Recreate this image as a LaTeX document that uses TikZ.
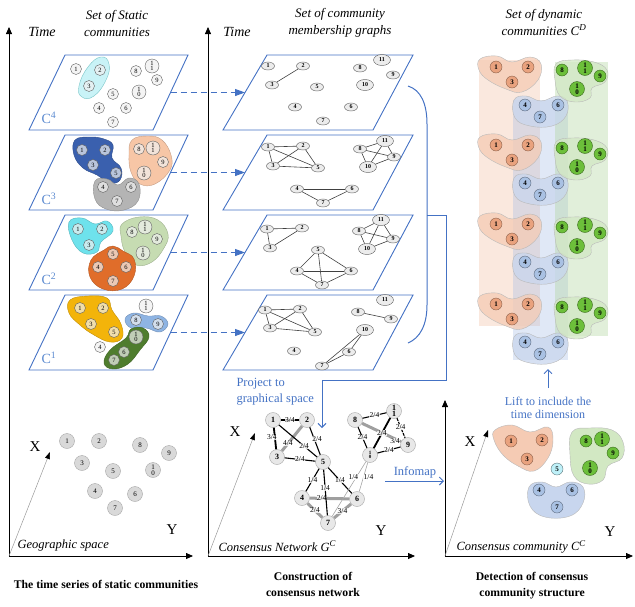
\documentclass[tikz,border=0pt]{standalone}
\usepackage{fontspec}
\setmainfont{Liberation Serif}
\usetikzlibrary{arrows.meta,shapes.geometric}
\definecolor{pblue}{RGB}{68,114,196}
\definecolor{lblue}{RGB}{91,138,208}
\definecolor{c4cyan}{RGB}{201,243,247}
\definecolor{c3blue}{RGB}{58,96,174}
\definecolor{c3sal}{RGB}{247,198,166}
\definecolor{c3gray}{RGB}{180,180,180}
\definecolor{c2cyan}{RGB}{110,226,236}
\definecolor{c2green}{RGB}{198,220,178}
\definecolor{c2orange}{RGB}{224,109,42}
\definecolor{c1gold}{RGB}{243,180,10}
\definecolor{c1lblue}{RGB}{142,180,227}
\definecolor{c1dgreen}{RGB}{79,125,46}
\definecolor{salnode}{RGB}{233,162,126}
\definecolor{blunode}{RGB}{169,193,227}
\definecolor{grnnode}{RGB}{108,191,58}
\definecolor{salblob}{RGB}{245,203,180}
\definecolor{blublob}{RGB}{200,214,238}
\definecolor{grnblob}{RGB}{210,232,195}
\definecolor{salband}{RGB}{240,190,160}
\definecolor{bluband}{RGB}{165,188,228}
\definecolor{grnband}{RGB}{170,210,150}
\definecolor{cyannode}{RGB}{190,240,248}
\newcommand{\dynlayer}[2]{%
\begin{scope}[shift={(0,#2)}]
\filldraw[dblob,fill=salblob] plot[smooth cycle,tension=0.7] coordinates {(480,59) (497,56) (512,62) (530,57) (541,64) (538,80) (522,92) (506,89) (488,80) (479,70)};
\filldraw[dblob,fill=blublob] plot[smooth cycle,tension=0.7] coordinates {(514,100) (526,96) (541,101) (557,96) (567,101) (566,116) (552,126) (530,126) (515,118)};
\filldraw[dblob,fill=grnblob] plot[smooth cycle,tension=0.7] coordinates {(556,64) (572,60) (594,62) (607,70) (605,82) (592,88) (590,98) (575,102) (560,96) (555,80)};
\node[dsal] (d#1n1) at (496,67) {1};
\node[dsal] (d#1n2) at (528,67) {2};
\node[dsal] (d#1n3) at (512,82) {3};
\node[dblu] (d#1n4) at (525,105) {4};
\node[dblu] (d#1n6) at (558,105) {6};
\node[dblu] (d#1n7) at (540,117) {7};
\node[dgrn] (d#1n8) at (562,70) {8};
\node[dgrnb] (d#1n11) at (585,68) {1\\1};
\node[dgrn] (d#1n9) at (600,76) {9};
\node[dgrnb] (d#1n10) at (577,89) {1\\0};
\end{scope}}
\begin{document}
\begin{tikzpicture}[x=1pt,y=-1pt,
  sn/.style={circle,draw=gray!75!black,fill=gray!12,fill opacity=0.7,text opacity=1,inner sep=0pt,minimum size=11pt,line width=0.4pt,font=\fontsize{6.5}{5.6}\selectfont,align=center},
  snb/.style={sn,minimum size=14pt},
  gn/.style={circle,draw=gray!70,fill=gray!30,inner sep=0pt,minimum size=15pt,line width=0.4pt,font=\fontsize{7}{6.2}\selectfont,align=center},
  mn/.style={ellipse,draw=gray!70!black,fill=gray!15,inner sep=0pt,minimum width=13pt,minimum height=8pt,line width=0.4pt,font=\fontsize{6}{6}\selectfont\bfseries},
  mnb/.style={mn,minimum width=17pt,minimum height=11pt},
  medge/.style={draw=black!75,line width=0.6pt},
  cn/.style={circle,draw=gray!60,fill=gray!18,inner sep=0pt,minimum size=15pt,line width=0.5pt,font=\fontsize{8}{6.6}\selectfont\bfseries,align=center},
  lab/.style={font=\fontsize{7.5}{7.5}\selectfont,fill=white,fill opacity=0.8,text opacity=1,inner sep=0.3pt},
  ce1/.style={draw=black,line width=1.1pt},
  ce2/.style={draw=black,line width=1.8pt},
  ce3/.style={draw=gray!75,line width=3pt},
  ce4/.style={draw=gray!70,line width=0.6pt},
  plane/.style={draw=pblue,line width=0.9pt},
  blob/.style={line width=0.4pt},
  dblob/.style={draw=gray!55,line width=0.4pt,fill opacity=0.75},
  dsal/.style={circle,draw=salnode!60!black,fill=salnode,inner sep=0pt,minimum size=12pt,line width=0.4pt,font=\fontsize{7}{6}\selectfont\bfseries,align=center},
  dblu/.style={dsal,draw=blunode!55!black,fill=blunode},
  dgrn/.style={dsal,draw=grnnode!55!black,fill=grnnode},
  dgrnb/.style={dgrn,minimum size=15pt},
  dcyan/.style={dsal,draw=cyannode!50!black,fill=cyannode},
  axis/.style={draw=black,line width=0.8pt,-{Triangle[length=7pt,width=6pt]}},
  diag/.style={draw=gray!80,line width=0.5pt,-{Triangle[black,length=7pt,width=5pt]}},
  dasharr/.style={draw=pblue,line width=1pt,dash pattern=on 6pt off 4pt,-{Triangle[length=10pt,width=7pt]}},
  barr/.style={draw=pblue,line width=1pt,-{Straight Barb[length=4pt,width=8pt]}},
  ttl/.style={font=\fontsize{13}{17}\selectfont\itshape,align=center},
  tm/.style={font=\fontsize{14}{14}\selectfont\itshape},
  btl/.style={font=\fontsize{11.7}{16}\selectfont\bfseries,align=center},
  axl/.style={font=\fontsize{15}{15}\selectfont},
  spc/.style={font=\fontsize{12.5}{12.5}\selectfont\itshape,anchor=west},
  clab/.style={font=\fontsize{14}{14}\selectfont,text=lblue},
  blu/.style={text=pblue,font=\fontsize{12.5}{16}\selectfont}
]
\useasboundingbox (0,0) rectangle (635,606);

% ---------- titles ----------
\node[ttl] (t1) at (117,23) {Set of Static\\communities};
\node[ttl] (t2) at (340,23) {Set of community\\membership graphs};
\node[ttl] (t3) at (544,22) {Set of dynamic\\communities C\textsuperscript{D}};
\node[tm] (time1) at (42,32) {Time};
\node[tm] (time2) at (237,32) {Time};
\node[btl] (b1) at (106,584) {The time series of static communities};
\node[btl] (b2) at (313,584) {Construction of\\consensus network};
\node[btl] (b3) at (532,586) {Detection of consensus\\community structure};

% ---------- axes ----------
\coordinate (o1) at (9,556); \coordinate (o1t) at (9,27); \coordinate (o1r) at (193,556); \coordinate (o1x) at (50,452);
\coordinate (o2) at (208,556); \coordinate (o2t) at (208,27); \coordinate (o2r) at (415,556); \coordinate (o2x) at (255,433);
\coordinate (o3) at (445,556); \coordinate (o3t) at (445,400); \coordinate (o3r) at (633,556); \coordinate (o3x) at (488,430);
\draw[axis] (o1) -- (o1t); \draw[axis] (o1) -- (o1r); \draw[diag] (o1) -- (o1x);
\draw[axis] (o2) -- (o2t); \draw[axis] (o2) -- (o2r); \draw[diag] (o2) -- (o2x);
\draw[axis] (o3) -- (o3t); \draw[axis] (o3) -- (o3r); \draw[diag] (o3) -- (o3x);
\node[axl] (x1) at (35,447) {X}; \node[axl] (y1) at (172,530) {Y};
\node[axl] (x2) at (235,432) {X}; \node[axl] (y2) at (381,531) {Y};
\node[axl] (x3) at (470,442) {X}; \node[axl] (y3) at (610,532) {Y};
\node[spc] (gs) at (14,545) {Geographic space};
\node[spc] (cns) at (215,546) {Consensus Network G\textsuperscript{C}};
\node[spc] (ccs) at (453,547) {Consensus community C\textsuperscript{C}};

% ---------- panel 1 planes ----------
\foreach \t in {55,135,215,295}
  \draw[plane] (65,\t) -- (188,\t) -- (153,{\t+75}) -- (29,{\t+75}) -- cycle;
\node[clab] (cl4) at (49,118) {C\textsuperscript{4}};
\node[clab] (cl3) at (49,199) {C\textsuperscript{3}};
\node[clab] (cl2) at (49,279) {C\textsuperscript{2}};
\node[clab] (cl1) at (49,358) {C\textsuperscript{1}};

% blobs
\filldraw[blob,fill=c4cyan,draw=c4cyan!60!teal] plot[smooth cycle,tension=0.8] coordinates {(101,57) (109,64) (106,80) (94,96) (82,97) (79,86) (88,67)};
\filldraw[blob,fill=c3blue,draw=c3blue!80!black] plot[smooth cycle,tension=0.7] coordinates {(75,140) (90,137) (104,139) (113,145) (112,158) (121,168) (120,180) (110,183) (97,175) (83,168) (74,155)};
\filldraw[blob,fill=c3sal,draw=c3sal!80!black] plot[smooth cycle,tension=0.7] coordinates {(132,140) (148,136) (162,140) (171,155) (170,170) (155,184) (140,184) (131,172) (129,155)};
\filldraw[blob,fill=c3gray,draw=c3gray!80!black] plot[smooth cycle,tension=0.7] coordinates {(95,181) (107,179) (118,185) (129,178) (139,184) (138,201) (124,210) (106,209) (95,199)};
\filldraw[blob,fill=c2cyan,draw=c2cyan!80!black] plot[smooth cycle,tension=0.7] coordinates {(69,222) (82,218) (95,224) (107,221) (113,231) (101,242) (97,252) (83,253) (72,240)};
\filldraw[blob,fill=c2green,draw=c2green!80!black] plot[smooth cycle,tension=0.7] coordinates {(122,224) (139,217) (158,220) (168,234) (164,248) (152,262) (136,265) (125,252) (121,236)};
\filldraw[blob,fill=c2orange,draw=c2orange!80!black] plot[smooth cycle,tension=0.7] coordinates {(104,250) (113,246) (123,251) (134,259) (134,276) (122,289) (103,289) (90,277) (91,260)};
\filldraw[blob,fill=c1gold,draw=c1gold!80!black] plot[smooth cycle,tension=0.7] coordinates {(70,300) (88,296) (107,298) (112,310) (121,324) (122,338) (110,342) (94,335) (80,325) (69,313)};
\filldraw[blob,fill=c1lblue,draw=c1lblue!80!black] plot[smooth cycle,tension=0.7] coordinates {(125,319) (134,313) (148,316) (161,316) (168,324) (160,332) (146,328) (131,328)};
\filldraw[blob,fill=c1dgreen,draw=c1dgreen!80!black] plot[smooth cycle,tension=0.7] coordinates {(131,329) (143,328) (149,337) (140,350) (128,364) (113,369) (104,363) (110,350) (126,338)};

% static nodes
\foreach \n/\x/\y in {1/76/69,2/100/70,3/89/86,4/99/108,5/113/94,6/126/108,7/113/122,8/136/71,9/157/80}
  \node[sn] (s4n\n) at (\x,\y) {\n};
\node[snb] (s4n11) at (152,66) {1\\1}; \node[snb] (s4n10) at (139,92) {1\\0};
\foreach \n/\x/\y in {1/82/150,2/105/150,3/93/165,4/103/187,5/116/173,6/131/187,7/117/201,8/139/149,9/163/162}
  \node[sn] (s3n\n) at (\x,\y) {\n};
\node[snb] (s3n11) at (153,148) {1\\1}; \node[snb] (s3n10) at (144,173) {1\\0};
\foreach \n/\x/\y in {1/78/229,2/102/229,3/89/245,4/98/267,5/113/254,6/126/267,7/113/281,8/132/232,9/157/239}
  \node[sn] (s2n\n) at (\x,\y) {\n};
\node[snb] (s2n11) at (145,227) {1\\1}; \node[snb] (s2n10) at (143,253) {1\\0};
\foreach \n/\x/\y in {1/80/308,2/103/308,3/91/324,4/100/347,5/114/332,6/124/352,7/114/360,8/136/320,9/158/324}
  \node[sn] (s1n\n) at (\x,\y) {\n};
\node[snb] (s1n11) at (146,306) {1\\1}; \node[snb] (s1n10) at (136,337) {1\\0};

% geographic nodes
\foreach \n/\x/\y in {1/67/441,2/99/441,3/82/463,4/95/491,5/113/471,6/135/494,7/115/508,8/140/445,9/169/453}
  \node[gn] (g\n) at (\x,\y) {\n};
\node[gn] (g10) at (153,470) {1\\0};

% ---------- panel 2 planes ----------
\foreach \t in {55,135,215,295}
  \draw[plane] (267,\t) -- (413,\t) -- (373,{\t+75}) -- (223,{\t+75}) -- cycle;

% membership graphs
\foreach \n/\x/\y in {1/268/66,2/303/66,3/272/85,4/295/107,5/317/87,6/351/107,7/323/121,8/360/68,9/393/75}
  \node[mn] (m4n\n) at (\x,\y) {\n};
\node[mnb] (m4n11) at (382,60) {11}; \node[mnb] (m4n10) at (365,85) {10};
\draw[medge] (m4n2) -- (m4n3);

\foreach \n/\x/\y in {1/268/147,2/303/146,3/273/166,4/297/189,5/318/168,6/352/189,7/323/203,8/360/149,9/394/157}
  \node[mn] (m3n\n) at (\x,\y) {\n};
\node[mnb] (m3n11) at (385,141) {11}; \node[mnb] (m3n10) at (368,167) {10};
\foreach \a/\b in {1/2,1/3,1/5,2/3,2/5,3/5,8/11,8/10,8/9,11/9,11/10,10/9,4/6,4/7,6/7}
  \draw[medge] (m3n\a) -- (m3n\b);

\foreach \n/\x/\y in {1/267/229,2/302/228,3/270/248,4/297/271,5/318/250,6/351/271,7/322/285,8/359/231,9/393/239}
  \node[mn] (m2n\n) at (\x,\y) {\n};
\node[mnb] (m2n11) at (381,220) {11}; \node[mnb] (m2n10) at (367,249) {10};
\foreach \a/\b in {1/2,1/3,2/3,8/11,8/10,8/9,11/9,11/10,10/9,5/4,5/6,5/7,4/6,4/7,6/7}
  \draw[medge] (m2n\a) -- (m2n\b);

\foreach \n/\x/\y in {1/265/310,2/300/309,3/270/328,4/294/351,5/315/332,6/349/352,7/322/366,8/358/312,9/391/319}
  \node[mn] (m1n\n) at (\x,\y) {\n};
\node[mnb] (m1n11) at (385,300) {11}; \node[mnb] (m1n10) at (365,330) {10};
\foreach \a/\b in {1/2,1/3,1/5,2/3,2/5,3/5,8/9,10/6,10/7,6/7}
  \draw[medge] (m1n\a) -- (m1n\b);

% dashed arrows between panels
\foreach \k/\t in {4/55,3/135,2/215,1/295}{
  \coordinate (r\k) at (170.5,{\t+37.5});
  \coordinate (l\k) at (245,{\t+37.5});
  \draw[dasharr] (r\k) -- (l\k);
}

% bracket and projection arrow
\coordinate (bt) at (408,86); \coordinate (bb) at (408,343);
\coordinate (bm) at (427,215); \coordinate (pj) at (322,428);
\draw[pblue,line width=1pt] (bt) .. controls (421,90) and (427,104) .. (427,124) -- (427,305) .. controls (427,325) and (420,338) .. (bb);
\draw[barr] (bm) -- (446,215) -- (446,380) -- (322,380) -- (pj);
\node[blu,anchor=west,align=left] (proj) at (233,392) {Project to\\graphical space};

% ---------- consensus network ----------
\node[cn] (c1) at (273,420) {1};
\node[cn] (c2) at (307,420) {2};
\node[cn] (c3) at (277,457) {3};
\node[cn] (c5) at (323,462) {5};
\node[cn] (c8) at (355,420) {8};
\node[cn] (c11) at (394,411) {1\\1};
\node[cn] (c9) at (408,445) {9};
\node[cn,font=\fontsize{5}{4.5}\selectfont\bfseries] (c10) at (370,455) {1\\0};
\node[cn] (c4) at (302,498) {4};
\node[cn] (c6) at (357,499) {6};
\node[cn] (c7) at (328,523) {7};
\draw[ce3] (c2) -- node[lab,pos=0.7] {4/4} (c3);
\draw[ce3] (c4) -- node[lab,pos=0.3] {2/4} (c6);
\draw[ce3] (c4) -- node[lab] {2/4} (c7);
\draw[ce3] (c6) -- node[lab] {3/4} (c7);
\draw[ce3] (c8) -- node[lab,pos=0.8,yshift=-3pt,xshift=2pt] {3/4} (c9);
\draw[ce2] (c1) -- node[lab] {3/4} (c2);
\draw[ce2] (c1) -- node[lab,xshift=-3pt,pos=0.45] {3/4} (c3);
\draw[ce1] (c1) -- node[lab,pos=0.66] {2/4} (c5);
\draw[ce1] (c2) -- node[lab,pos=0.42,xshift=3pt] {2/4} (c5);
\draw[ce1] (c3) -- node[lab] {2/4} (c5);
\draw[ce1] (c5) -- node[lab] {1/4} (c4);
\draw[ce1] (c5) -- node[lab,pos=0.4] {1/4} (c7);
\draw[ce1] (c5) -- node[lab] {1/4} (c6);
\draw[ce1] (c8) -- node[lab] {2/4} (c11);
\draw[ce1] (c8) -- node[lab] {2/4} (c10);
\draw[ce2] (c11) -- node[lab,pos=0.5] {2/4} (c10);
\draw[ce1,dash pattern=on 3pt off 1pt] (c11) -- node[lab,pos=0.45] {2/4} (c9);
\draw[ce1] (c10) -- node[lab] {2/4} (c9);
\draw[ce4] (c10) -- node[lab,pos=0.28,xshift=-3pt] {1/4} (c7);
\draw[ce4] (c10) -- node[lab,pos=0.5,xshift=5pt] {1/4} (c6);

% infomap arrow
\node[blu] (info) at (415,472) {Infomap};
\coordinate (ia) at (385,481); \coordinate (ib) at (444,481);
\draw[barr] (ia) -- (ib);

% ---------- panel 3: dynamic communities ----------
\fill[salband,fill opacity=0.35] (479,60) rectangle (540,326);
\fill[bluband,fill opacity=0.35] (513,100) rectangle (568,360);
\fill[grnband,fill opacity=0.35] (555,62) rectangle (608,336);
\dynlayer{1}{0}
\dynlayer{2}{78}
\dynlayer{3}{157}
\dynlayer{4}{237}

% lift arrow
\coordinate (la) at (548,388); \coordinate (lb) at (548,369);
\draw[barr] (la) -- (lb);
\node[blu,align=center,font=\fontsize{12}{13.5}\selectfont] (lift) at (548,408) {Lift to include the\\time dimension};

% consensus community
\filldraw[dblob,fill=salblob,fill opacity=1] plot[smooth cycle,tension=0.7] coordinates {(495,430) (512,425) (530,432) (548,427) (553,440) (548,458) (534,471) (518,466) (503,455) (494,440)};
\filldraw[dblob,fill=grnblob,fill opacity=1] plot[smooth cycle,tension=0.7] coordinates {(572,432) (590,428) (612,430) (623,442) (622,458) (608,466) (603,480) (588,484) (574,476) (570,455)};
\filldraw[dblob,fill=blublob,fill opacity=1] plot[smooth cycle,tension=0.7] coordinates {(529,487) (542,482) (556,487) (570,482) (583,487) (583,503) (570,516) (545,517) (530,506)};
\node[dsal] (k1) at (511,441) {1};
\node[dsal] (k2) at (542,440) {2};
\node[dsal] (k3) at (527,459) {3};
\node[dcyan] (k5) at (557,469) {5};
\node[dgrn] (k8) at (586,441) {8};
\node[dgrnb] (k11) at (602,439) {1\\1};
\node[dgrn] (k9) at (613,453) {9};
\node[dgrnb] (k10) at (590,468) {1\\0};
\node[dblu] (k4) at (539,490) {4};
\node[dblu] (k6) at (572,490) {6};
\node[dblu] (k7) at (557,507) {7};
\end{tikzpicture}
\end{document}
